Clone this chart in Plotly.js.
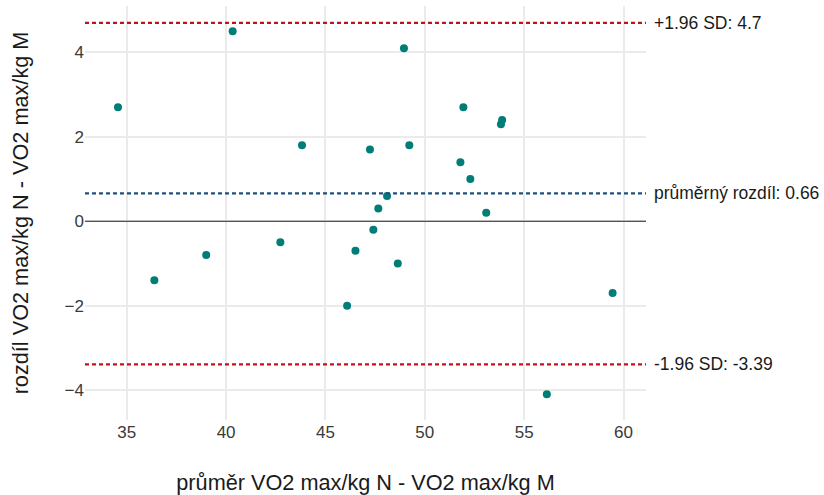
<!DOCTYPE html>
<html>
<head>
<meta charset="utf-8">
<script src="https://cdn.plot.ly/plotly-3.0.1.min.js"></script>
<style>html,body{margin:0;padding:0;background:#fff}#chart{width:824px;height:495px}</style>
</head>
<body>
<div id="chart"></div>
<script>
const prumer = [34.56, 36.39, 39.0, 40.33, 42.73, 43.82, 46.09, 46.51, 47.24, 47.41, 47.66, 48.10, 48.64, 48.95, 49.22, 51.79, 51.94, 52.29, 53.09, 53.83, 53.89, 56.14, 59.45];
const rozdil = [2.7, -1.4, -0.8, 4.5, -0.5, 1.8, -2.0, -0.7, 1.7, -0.2, 0.3, 0.6, -1.0, 4.1, 1.8, 1.4, 2.7, 1.0, 0.2, 2.3, 2.4, -4.1, -1.7];
const meanDiff = 0.66;
const upperLoA = 4.7;
const lowerLoA = -3.39;
const lineLabels = ["+1.96 SD: 4.7", "průměrný rozdíl: 0.66", "-1.96 SD: -3.39"];
const xTicks = [35, 40, 45, 50, 55, 60];
const yTicks = [-4, -2, 0, 2, 4];

const font = "Liberation Sans, Arial, sans-serif";
const hline = (y, color) => ({
  type: "line", xref: "paper", x0: 0, x1: 1, yref: "y", y0: y, y1: y,
  line: {color: color, width: 2.2, dash: "4px,3px"}
});
const data = [{
  type: "scatter", mode: "markers", x: prumer, y: rozdil,
  marker: {color: "#007d77", size: 8}, hoverinfo: "x+y"
}];
const layout = {
  width: 824, height: 495,
  margin: {l: 85, r: 178, t: 6, b: 75},
  paper_bgcolor: "#fff", plot_bgcolor: "#fff",
  font: {family: font, color: "#1a1a1a"},
  showlegend: false,
  xaxis: {
    range: [32.9, 61.13], tickvals: xTicks, ticks: "", showline: false,
    gridcolor: "#ebebeb", gridwidth: 1.5, zeroline: false,
    tickfont: {size: 17, color: "#3a3a3a"},
    title: {text: "průměr VO2 max/kg N - VO2 max/kg M", font: {size: 21.7, color: "#1a1a1a"}, standoff: 33}
  },
  yaxis: {
    range: [-4.71, 5.1], tickvals: yTicks, ticks: "", showline: false,
    gridcolor: "#ebebeb", gridwidth: 1.5, zeroline: false,
    tickfont: {size: 17, color: "#3a3a3a"},
    title: {text: "rozdíl VO2 max/kg N - VO2 max/kg M", font: {size: 21.7, color: "#1a1a1a"}, standoff: 30}
  },
  shapes: [
    {type: "line", xref: "paper", x0: 0, x1: 1, yref: "y", y0: 0, y1: 0, line: {color: "#222", width: 1.2}},
    hline(upperLoA, "#c0141c"),
    hline(meanDiff, "#1f4e80"),
    hline(lowerLoA, "#c0141c")
  ],
  annotations: [upperLoA, meanDiff, lowerLoA].map((y, i) => ({
    xref: "paper", x: 1, xanchor: "left", xshift: 6, yref: "y", y: y,
    text: lineLabels[i], showarrow: false, font: {size: 17.5, color: "#1a1a1a"}
  }))
};
Plotly.newPlot("chart", data, layout, {displayModeBar: false});
</script>
</body>
</html>
